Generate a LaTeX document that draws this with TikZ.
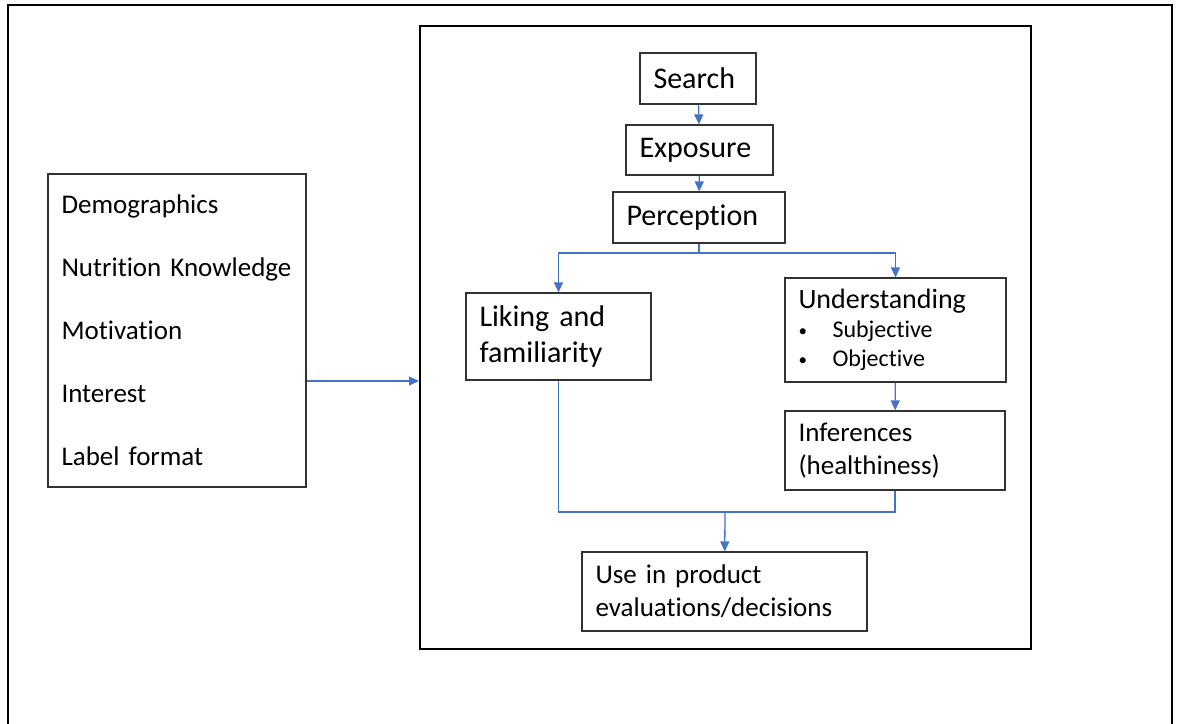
\documentclass[tikz,border=0pt]{standalone}
\usepackage{fontspec}
\setmainfont{Carlito}[Ligatures=NoCommon]
\usetikzlibrary{arrows.meta, positioning, calc}
\definecolor{flowblue}{RGB}{68,114,196}
\definecolor{boxgray}{RGB}{50,50,50}
\newcommand{\smallbullet}{\makebox[34pt][l]{\raisebox{1.5pt}{\fontsize{17}{17}\selectfont\textbullet}}}

\begin{document}
\begin{tikzpicture}[
    x=1pt, y=-1pt,
    box/.style={rectangle, draw=boxgray, line width=1.2pt, align=left, inner xsep=13.5pt, inner ysep=0pt},
    frame/.style={rectangle, draw=black, line width=2pt, inner sep=0pt},
    arrow/.style={-{Triangle[length=10pt, width=9pt]}, draw=flowblue, line width=1.3pt},
    link/.style={draw=flowblue, line width=1.3pt}
]
    \useasboundingbox (0,0) rectangle (1177,723);
    \clip (0,0) rectangle (1177,723);

    % Frames
    \node[frame, anchor=north west, minimum width=1164pt, minimum height=756pt] (page) at (7,4) {};
    \node[frame, anchor=north west, minimum width=611pt, minimum height=623pt] (stages) at (419,25) {};

    % Influencing factors
    \node[box, text width=231pt, minimum height=313pt, font=\fontsize{27}{63}\selectfont] (factors) at (177,330.5)
        {Demographics\\Nutrition Knowledge\\Motivation\\Interest\\Label format};

    % Processing stages
    \node[box, text width=89pt, minimum height=51pt, font=\fontsize{30}{36}\selectfont] (search) at (698,78.5) {Search};
    \node[box, text width=120pt, minimum height=50pt, font=\fontsize{30}{36}\selectfont] (exposure) at (699.5,150) {Exposure};
    \node[box, text width=145pt, minimum height=51pt, font=\fontsize{30}{36}\selectfont] (perception) at (699,217.5) {Perception};
    \node[box, text width=158pt, minimum height=87pt, font=\fontsize{30}{36}\selectfont] (liking) at (558.5,336.5) {Liking and\\familiarity};
    \node[box, text width=194pt, minimum height=104pt, font=\fontsize{24}{29}\selectfont] (understanding) at (895.5,330)
        {{\fontsize{28}{29}\selectfont Understanding}\\\smallbullet Subjective\\\smallbullet Objective};
    \node[box, text width=193pt, minimum height=79pt, font=\fontsize{27}{33}\selectfont] (inferences) at (895,450.5) {Inferences\\(healthiness)};
    \node[box, text width=258pt, minimum height=79pt, font=\fontsize{27}{33}\selectfont] (use) at (724.5,591.5) {Use in product\\evaluations/decisions};

    % Branch points
    \coordinate (split) at (699,253);
    \coordinate (merge) at (725,512);

    % Arrows
    \draw[arrow] (search) -- (exposure);
    \draw[arrow] (exposure) -- (perception);
    \draw[link] (perception.south) -- (split);
    \draw[arrow] (split) -| (liking.north);
    \draw[arrow] (split) -| (understanding.north);
    \draw[arrow] (understanding) -- (inferences);
    \draw[link] (liking.south) |- (merge) -| (inferences.south);
    \draw[arrow] (merge) -- (use);
    \draw[arrow] ([yshift=-50.5pt]factors.east) -- ([yshift=-50.5pt]factors.east -| stages.west);

\end{tikzpicture}
\end{document}
